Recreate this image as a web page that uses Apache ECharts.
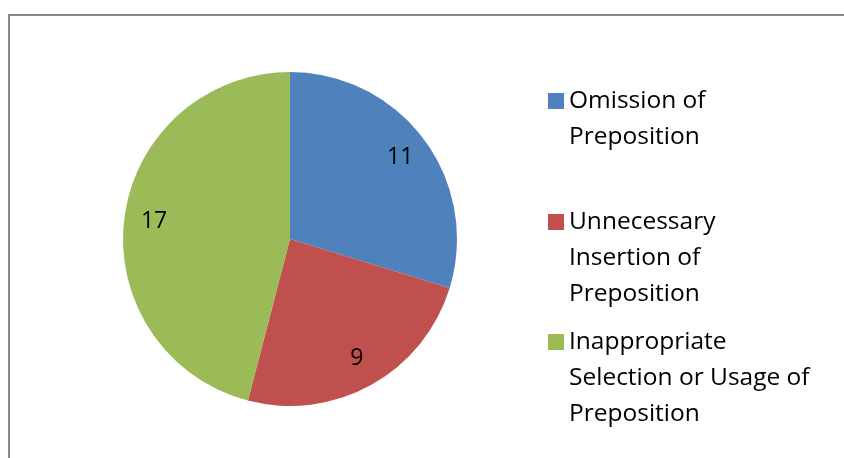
<!DOCTYPE html>
<html>
<head>
<meta charset="utf-8">
<script src="https://cdn.jsdelivr.net/npm/echarts@6/dist/echarts.min.js"></script>
<style>
html,body{margin:0;padding:0;background:#fff;}
#c{width:844px;height:458px;}
</style>
</head>
<body>
<div id="c"></div>
<script>
var categories = ['Omission of Preposition', 'Unnecessary Insertion of Preposition', 'Inappropriate Selection or Usage of Preposition'];
var legendLines = [['Omission of', 'Preposition'], ['Unnecessary', 'Insertion of', 'Preposition'], ['Inappropriate', 'Selection or Usage of', 'Preposition']];
var values = [11, 9, 17];
var colors = ['#4F81BD', '#C0504D', '#9BBB59'];

var FONT = 'Open Sans';
var LH = 36;
var legendTops = [47, 132, 252];

var chart = echarts.init(document.getElementById('c'), null, {renderer: 'canvas'});
var data = categories.map(function (n, i) {
  return {name: n, value: values[i], itemStyle: {color: colors[i]}};
});
var legends = categories.map(function (n, i) {
  var L = legendLines[i].length;
  var pre = [];
  for (var k = 0; k < L - 1; k++) pre.push(' ');
  var txt = pre.concat(legendLines[i]).join('\n');
  return {
    orient: 'vertical',
    left: 548,
    top: legendTops[i],
    padding: 0,
    icon: 'rect',
    itemWidth: 16,
    itemHeight: 16,
    itemGap: 0,
    selectedMode: false,
    data: [{name: n, itemStyle: {color: colors[i]}}],
    formatter: function () { return txt; },
    textStyle: {
      fontFamily: FONT, fontSize: 24.5, color: '#000', lineHeight: LH
    }
  };
});

chart.setOption({
  backgroundColor: '#fff',
  animation: false,
  legend: legends,
  graphic: [{
    type: 'rect', silent: true,
    shape: {x: 9, y: 15, width: 900, height: 500},
    style: {fill: 'none', stroke: '#8a8a8a', lineWidth: 2}
  }],
  series: [{
    type: 'pie',
    center: [290, 239],
    radius: [0, 167],
    startAngle: 90,
    clockwise: true,
    label: {show: false},
    labelLine: {show: false},
    emphasis: {disabled: true},
    itemStyle: {borderWidth: 0},
    data: data
  }, {
    type: 'pie',
    center: [290, 239],
    radius: [101, 167],
    startAngle: 90,
    clockwise: true,
    silent: true,
    z: 5,
    emphasis: {disabled: true},
    itemStyle: {color: 'rgba(0,0,0,0)', borderWidth: 0},
    labelLine: {show: false},
    label: {
      show: true, position: 'inside', formatter: '{c}',
      fontFamily: FONT, fontSize: 23, color: '#000'
    },
    data: categories.map(function (n, i) { return {name: n, value: values[i]}; })
  }]
});
</script>
</body>
</html>
